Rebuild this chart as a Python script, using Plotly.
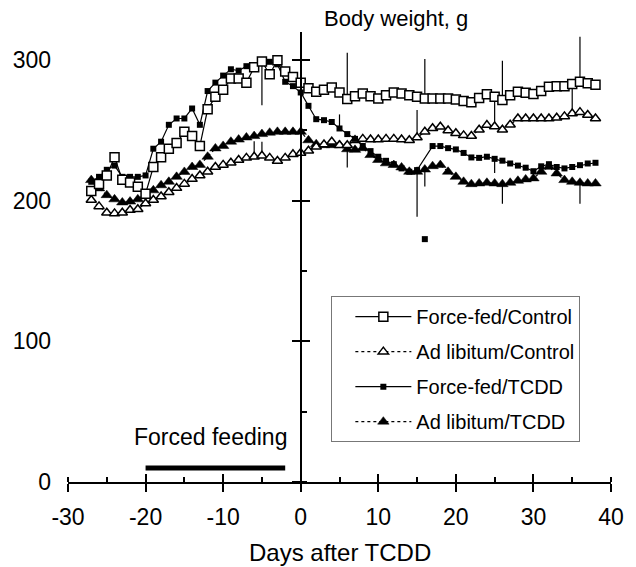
import plotly.graph_objects as go

DAYS = list(range(-27, 39))

FFC = [207, 212, 218, 231, 215, 213, 210, 205, 224, 231, 237, 241, 249, 246, 239,
       265, 274, 279, 287, 287, 284, 295, 299, 290, 300, 292, 288,
       284, 280, 277.5, 279, 280.5, 277, 272.3, 274.4, 276.3, 274.4, 272.8, 275, 277,
       276.3, 275, 274, 272.8, 272.8, 272.8, 272.8, 272, 271, 270, 273, 275.8, 274,
       271.6, 275, 277.5, 276.8, 276, 278, 281, 281.5, 281.5, 283, 284.6, 283.5, 282.5]

ALC = [200.5, 196, 191.5, 191, 191.5, 193.4, 194, 198, 200.5, 203, 206, 209, 212, 215.4,
       218, 220.6, 224, 225.5, 227, 229, 230.5, 231.3, 232, 230.5, 228.3, 230.5, 233,
       234, 235.5, 238.4, 240, 242, 239.5, 239.5, 243, 244, 243.5, 243.5, 244, 244,
       243.5, 243, 245, 249, 251.5, 252.6, 250, 248, 246.5, 246, 250.5, 253.8, 252.8,
       250.5, 254, 258.5, 258.5, 258.5, 258.5, 258.5, 259, 260, 262, 263, 261, 258.5]

FFT = [213.5, 217, 222, 225, 217, 217, 217, 218, 237, 242, 254, 258.5, 258.5, 265.6,
       254, 278, 284, 289, 293.5, 292.5, 295.7, 296.4, 299.5, 298.8, 297, 284.6, 281.5,
       277, 267.5, 258, 257.3, 256, 251.4, 247.4, 244, 239, 235.3, 231.3, 228.4, 226,
       223, 220.6, 221.8, None, 238.9, 238.9, 237.4, 236.5, 234, 230.8, 230.5, 231.3,
       229.8, 228.5, 226.5, 225, 223.5, 221, 224.5, 226, 224, 223, 224, 225.3, 226.5, 227]

FFT_OUTLIER_DAY = [16]
FFT_OUTLIER = [172.7]

ALT = [214.7, 208.8, 204, 201, 198.8, 199.4, 201, 204, 207.4, 211, 213.5, 217, 220.5,
       224, 225.5, 231.3, 237.2, 239, 242, 243.5, 245, 246, 247.4, 248.4, 249, 249, 249,
       249, 243, 240.2, 239.5, 239.5, 239.6, 236.6, 236.2, 237.4, 232.5, 229, 226.6,
       225.4, 223.7, 220.6, 220.6, 222.2, 224.6, 225.4, 220.6, 217, 213.5, 211.8, 212.3,
       212.8, 212.3, 211.8, 212.8, 214.2, 215.2, 215.9, 220.6, 224.1, 219.4, 214.7,
       213.5, 212.8, 212.3, 212.3]

# one-sided error bars (day, up, down)
FFC_ERR_DAYS = [-5, 6, 16, 26, 36]
FFC_ERR_UP = [0, 33, 28, 28, 32]
FFC_ERR_DOWN = [31, 0, 0, 0, 0]

ALC_ERR_DAYS = [-6, -5, 15, 25, 35]
ALC_ERR_UP = [11, 10, 19.5, 21, 20]
ALC_ERR_DOWN = [0, 0, 0, 0, 0]

FFT_ERR_DAYS = [5, 25]
FFT_ERR_UP = [10, 0]
FFT_ERR_DOWN = [0, 10]

ALT_ERR_DAYS = [6, 15, 16, 26, 36]
ALT_ERR_UP = [0, 0, 0, 0, 0]
ALT_ERR_DOWN = [13, 32, 12, 14, 15]

FORCED_DAYS = [-20, -2]
FORCED_LEVEL = [10, 10]

X_TICKS = [-30, -20, -10, 0, 10, 20, 30, 40]
X_TICK_TEXT = ["-30", "-20", "-10", "0", "10", "20", "30", "40"]
Y_TICKS = [0, 100, 200, 300]
Y_TICK_TEXT = ["0", "100", "200", "300"]

FONT = "Liberation Sans, Arial, sans-serif"
FS = 23


def err(err_days, up, down):
    plus = [0] * len(DAYS)
    minus = [0] * len(DAYS)
    for d, u, dn in zip(err_days, up, down):
        i = DAYS.index(d)
        plus[i] = u
        minus[i] = dn
    return plus, minus


def err_dict(err_days, up, down):
    p, m = err(err_days, up, down)
    return dict(type="data", symmetric=False, array=p, arrayminus=m,
                color="black", thickness=1.2, width=0)


fig = go.Figure()

# draw order: ALT, ALC, FFT, FFC
fig.add_trace(go.Scatter(
    x=DAYS, y=ALT, name="Ad libitum/TCDD", mode="lines+markers", legendrank=4,
    legendgroup="g4",
    line=dict(color="black", width=1.2, dash="dot"),
    marker=dict(symbol="triangle-up", size=10, color="black", line=dict(color="black", width=0.5)),
    error_y=err_dict(ALT_ERR_DAYS, ALT_ERR_UP, ALT_ERR_DOWN)))

fig.add_trace(go.Scatter(
    x=DAYS, y=ALC, name="Ad libitum/Control", mode="lines+markers", legendrank=2,
    legendgroup="g2",
    line=dict(color="black", width=1.2, dash="dot"),
    marker=dict(symbol="triangle-up", size=9, color="white", line=dict(color="black", width=1.5)),
    error_y=err_dict(ALC_ERR_DAYS, ALC_ERR_UP, ALC_ERR_DOWN)))

fig.add_trace(go.Scatter(
    x=DAYS, y=FFT, name="Force-fed/TCDD", mode="lines+markers", legendrank=3,
    legendgroup="g3", connectgaps=True,
    line=dict(color="black", width=1.2),
    marker=dict(symbol="square", size=6, color="black"),
    error_y=err_dict(FFT_ERR_DAYS, FFT_ERR_UP, FFT_ERR_DOWN)))

fig.add_trace(go.Scatter(
    x=FFT_OUTLIER_DAY, y=FFT_OUTLIER, mode="markers", showlegend=False, hoverinfo="skip",
    marker=dict(symbol="square", size=6, color="black")))

fig.add_trace(go.Scatter(
    x=DAYS, y=FFC, name="Force-fed/Control", mode="lines+markers", legendrank=1,
    legendgroup="g1",
    line=dict(color="black", width=1.2),
    marker=dict(symbol="square", size=9, color="white", line=dict(color="black", width=1.5)),
    error_y=err_dict(FFC_ERR_DAYS, FFC_ERR_UP, FFC_ERR_DOWN)))

# forced feeding period bar
fig.add_trace(go.Scatter(
    x=FORCED_DAYS, y=FORCED_LEVEL, mode="lines", showlegend=False, hoverinfo="skip",
    line=dict(color="black", width=5), xaxis="x2", yaxis="y"))

# helper traces so the overlay axes are drawn
fig.add_trace(go.Scatter(x=[None], y=[None], xaxis="x", yaxis="y2", showlegend=False, hoverinfo="skip"))
fig.add_trace(go.Scatter(x=[None], y=[None], xaxis="x", yaxis="y3", showlegend=False, hoverinfo="skip"))

YR = [0, 320]
XR = [-30, 40]
ZERO_POS = (0 - XR[0]) / (XR[1] - XR[0])

fig.update_layout(
    width=636, height=567,
    margin=dict(l=68, r=15, t=32, b=85),
    paper_bgcolor="white", plot_bgcolor="white",
    font=dict(family=FONT, size=FS, color="black"),
    showlegend=True,
    legend=dict(x=0.485, y=0.413, xanchor="left", yanchor="top",
                bgcolor="white", bordercolor="#777", borderwidth=1,
                font=dict(size=20), itemwidth=56, tracegroupgap=6,
                indentation=18, traceorder="grouped",
                entrywidth=185, entrywidthmode="pixels"),
    xaxis=dict(range=XR, showline=True, linecolor="black", linewidth=1.5,
               ticks="outside", ticklen=8, tickwidth=1.5, tickcolor="black",
               tickvals=X_TICKS, ticktext=X_TICK_TEXT, showgrid=False, zeroline=False,
               minor=dict(ticks="inside", ticklen=5, dtick=5, tick0=0,
                          tickwidth=1.5, tickcolor="black", showgrid=False),
               tickfont=dict(size=FS), ticklabelstandoff=6, anchor="y"),
    xaxis2=dict(range=XR, overlaying="x", anchor="y", showline=False,
                ticks="inside", ticklen=8, tickwidth=1.5, tickcolor="black",
                tickvals=X_TICKS, showticklabels=False, showgrid=False, zeroline=False),
    yaxis=dict(range=YR, anchor="free", position=ZERO_POS, showline=True,
               linecolor="black", linewidth=1.5, ticks="outside", ticklen=8,
               tickwidth=1.5, tickcolor="black", tickvals=Y_TICKS,
               showticklabels=False, showgrid=False, zeroline=False,
               minor=dict(ticks="inside", ticklen=6, dtick=50, tick0=0,
                          tickwidth=1.5, tickcolor="black", showgrid=False)),
    yaxis2=dict(range=YR, overlaying="y", anchor="free", position=ZERO_POS,
                showline=False, ticks="inside", ticklen=8, tickwidth=1.5,
                tickcolor="black", tickvals=Y_TICKS, showticklabels=False,
                showgrid=False, zeroline=False),
    yaxis3=dict(range=YR, overlaying="y", anchor="x", side="left", showline=False,
                ticks="", tickvals=Y_TICKS, ticktext=Y_TICK_TEXT, showticklabels=True,
                showgrid=False, zeroline=False, tickfont=dict(size=FS),
                ticklabelstandoff=16),
    annotations=[
        dict(text="Body weight, g", xref="paper", yref="paper", x=0.604, y=1.031,
             xanchor="center", yanchor="middle", showarrow=False, font=dict(size=22)),
        dict(text="Days after TCDD", xref="paper", yref="paper", x=0.5, y=-0.157,
             xanchor="center", yanchor="middle", showarrow=False, font=dict(size=24)),
        dict(text="Forced feeding", xref="x", yref="y", x=-11.6, y=32,
             xanchor="center", yanchor="middle", showarrow=False, font=dict(size=FS)),
    ],
)

fig.write_html("out.html")
